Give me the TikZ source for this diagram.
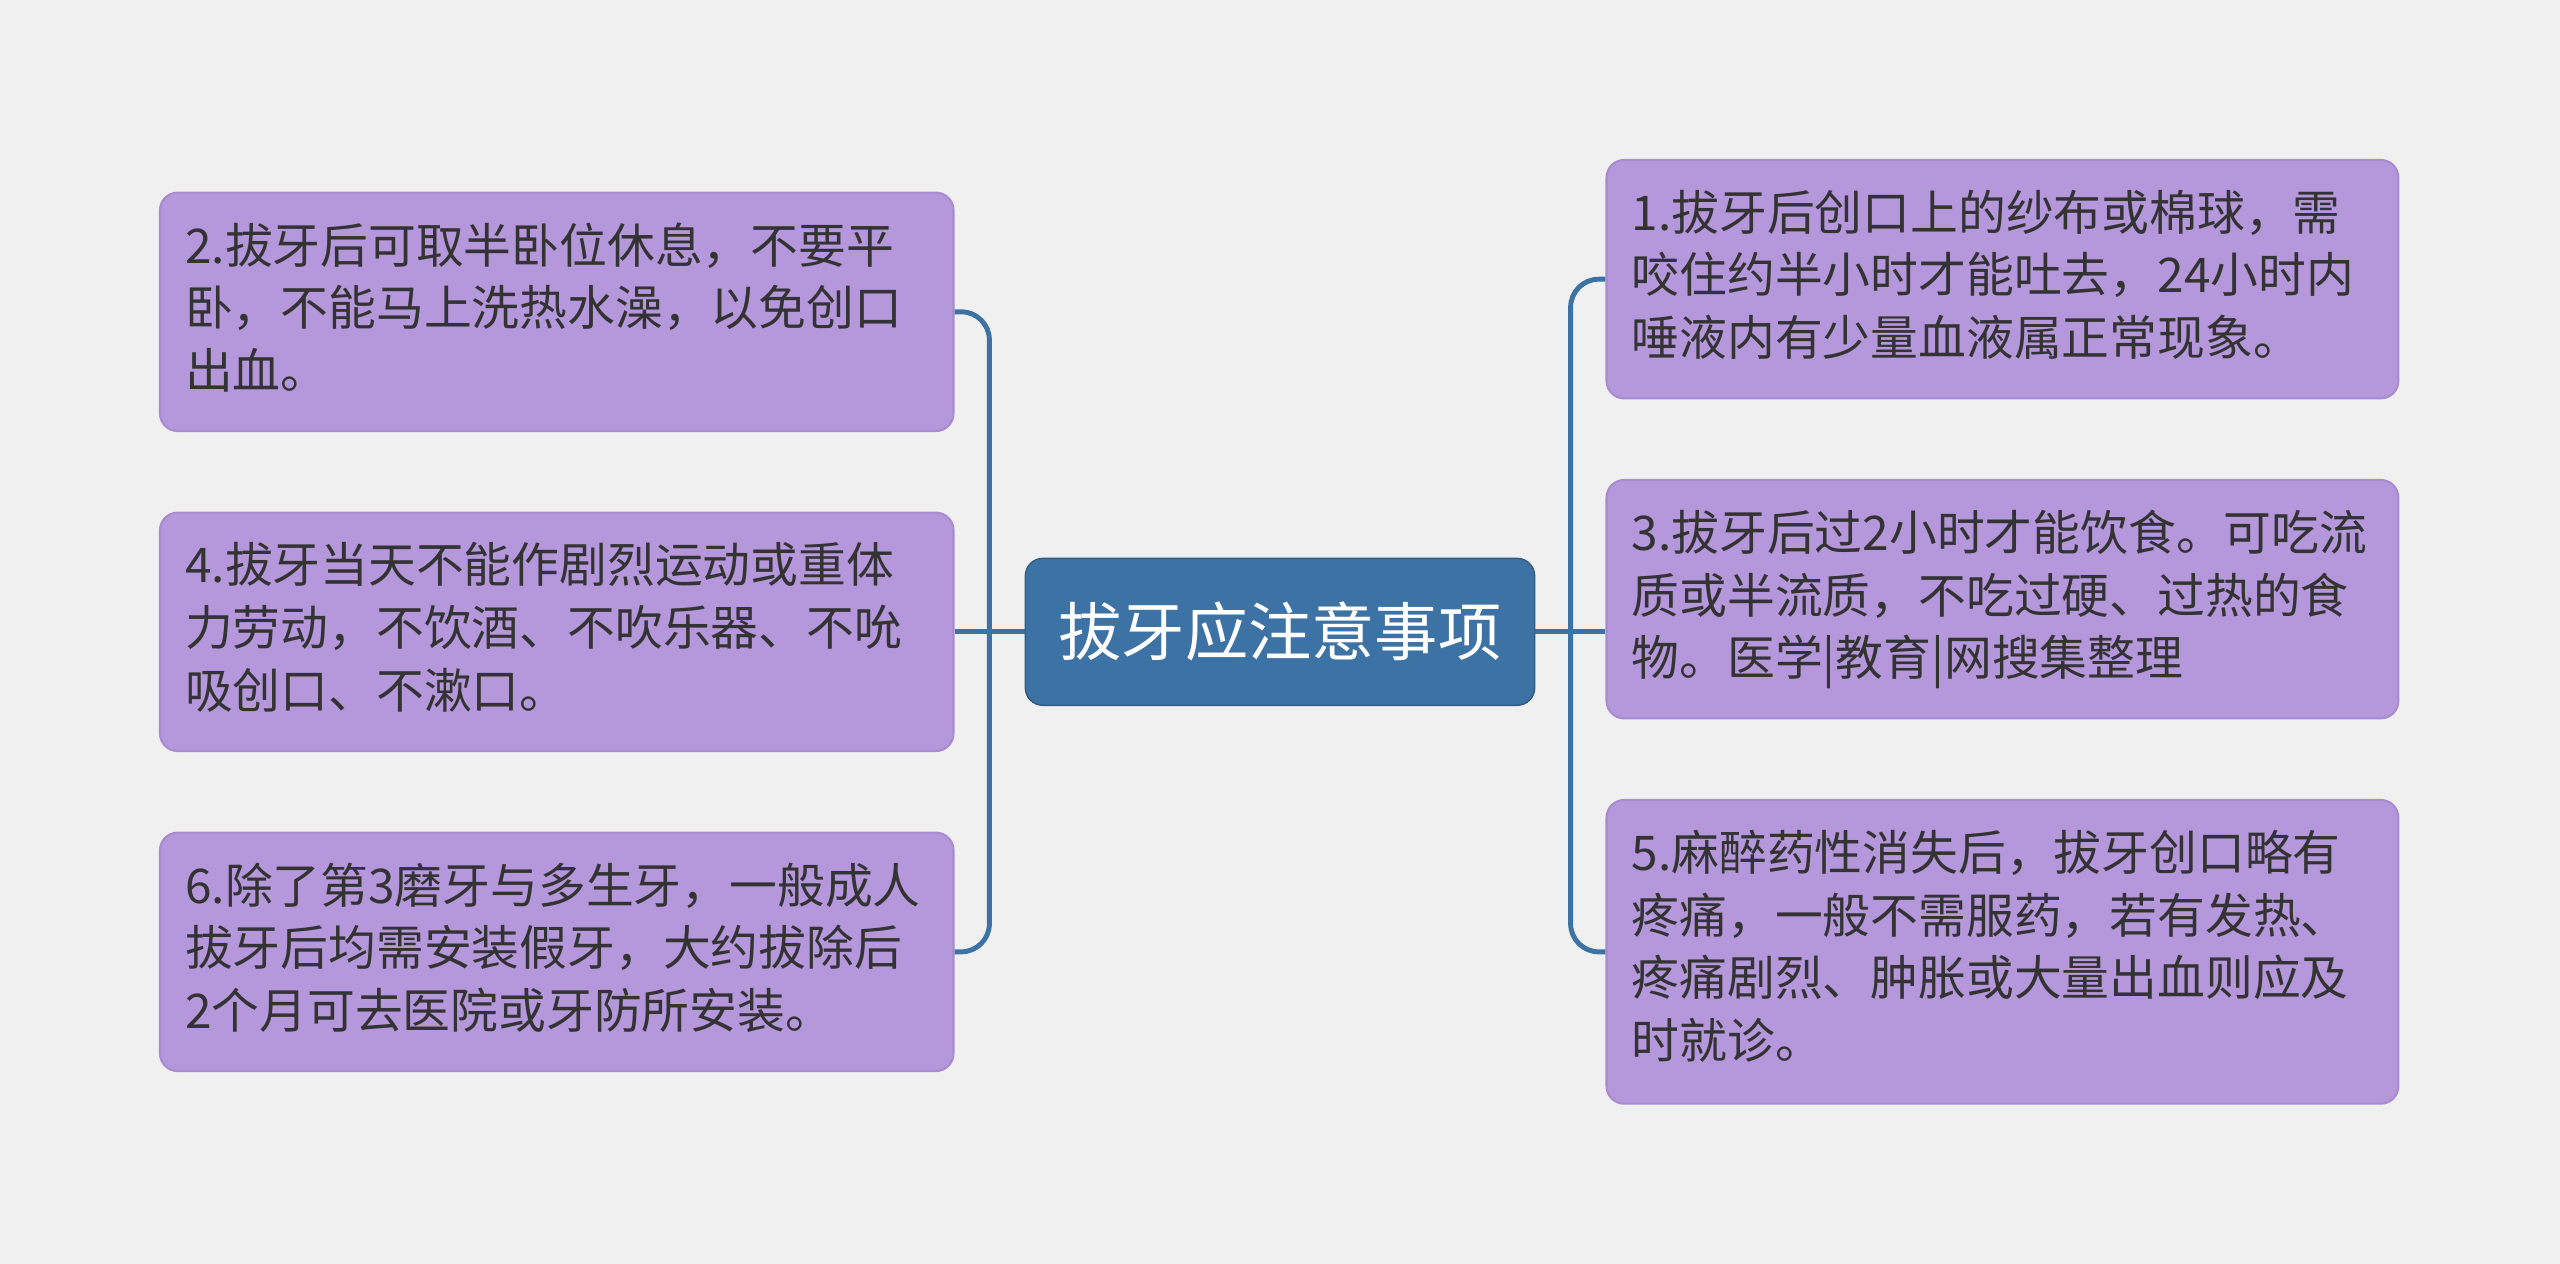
\documentclass[tikz,border=0pt]{standalone}
\usepackage{fontspec}
\setmainfont{Noto Sans CJK SC}
\begin{document}
\begin{tikzpicture}[x=0.016327cm,y=-0.016327cm,
  leaf/.style={draw=leafb,fill=leaff,rounded corners=5pt,line width=0.6pt},
  ltext/.style={anchor=north west,align=left,inner sep=0pt,font=\fontsize{13.6pt}{17.8pt}\selectfont,text=txt},
  conn/.style={draw=lnk,line width=1.4pt,rounded corners=8pt}]
\definecolor{bg}{HTML}{F0F0F0}
\definecolor{leaff}{HTML}{B597DB}
\definecolor{leafb}{HTML}{A88CCF}
\definecolor{txt}{HTML}{333333}
\definecolor{mainf}{HTML}{3D72A4}
\definecolor{lnk}{HTML}{3D72A4}
\fill[bg] (0,0) rectangle (1568,774);
\useasboundingbox (0,0) rectangle (1568,774);
\node[draw=mainf!80!black,fill=mainf,rounded corners=5pt,minimum width=312*0.016327cm,minimum height=90*0.016327cm,text=white,font=\fontsize{18pt}{20pt}\selectfont] (c) at (784,387) {拔牙应注意事项};
\node[leaf,minimum width=486*0.016327cm,minimum height=146*0.016327cm] (l1) at (341,191) {};
\node[leaf,minimum width=486*0.016327cm,minimum height=146*0.016327cm] (l2) at (341,387) {};
\node[leaf,minimum width=486*0.016327cm,minimum height=146*0.016327cm] (l3) at (341,583) {};
\node[leaf,minimum width=485*0.016327cm,minimum height=146*0.016327cm] (r1) at (1226.5,171) {};
\node[leaf,minimum width=485*0.016327cm,minimum height=146*0.016327cm] (r2) at (1226.5,367) {};
\node[leaf,minimum width=485*0.016327cm,minimum height=186*0.016327cm] (r3) at (1226.5,583) {};
\node[ltext] (t1) at (113,136) {2.拔牙后可取半卧位休息，不要平\\卧，不能马上洗热水澡，以免创口\\出血。};
\node[ltext] (t2) at (113,332) {4.拔牙当天不能作剧烈运动或重体\\力劳动，不饮酒、不吹乐器、不吮\\吸创口、不漱口。};
\node[ltext] (t3) at (113,528) {6.除了第3磨牙与多生牙，一般成人\\拔牙后均需安装假牙，大约拔除后\\2个月可去医院或牙防所安装。};
\node[ltext] (t4) at (999,116) {1.拔牙后创口上的纱布或棉球，需\\咬住约半小时才能吐去，24小时内\\唾液内有少量血液属正常现象。};
\node[ltext] (t5) at (999,312) {3.拔牙后过2小时才能饮食。可吃流\\质或半流质，不吃过硬、过热的食\\物。医学|教育|网搜集整理};
\node[ltext] (t6) at (999,508) {5.麻醉药性消失后，拔牙创口略有\\疼痛，一般不需服药，若有发热、\\疼痛剧烈、肿胀或大量出血则应及\\时就诊。};
\draw[conn] (l1.east) -| (606,387) |- (l3.east);
\draw[conn] (c.west) -- (l2.east);
\draw[conn] (r1.west) -| (962,387) |- (r3.west);
\draw[conn] (c.east) -- (r2.west |- c.east);
\end{tikzpicture}
\end{document}
